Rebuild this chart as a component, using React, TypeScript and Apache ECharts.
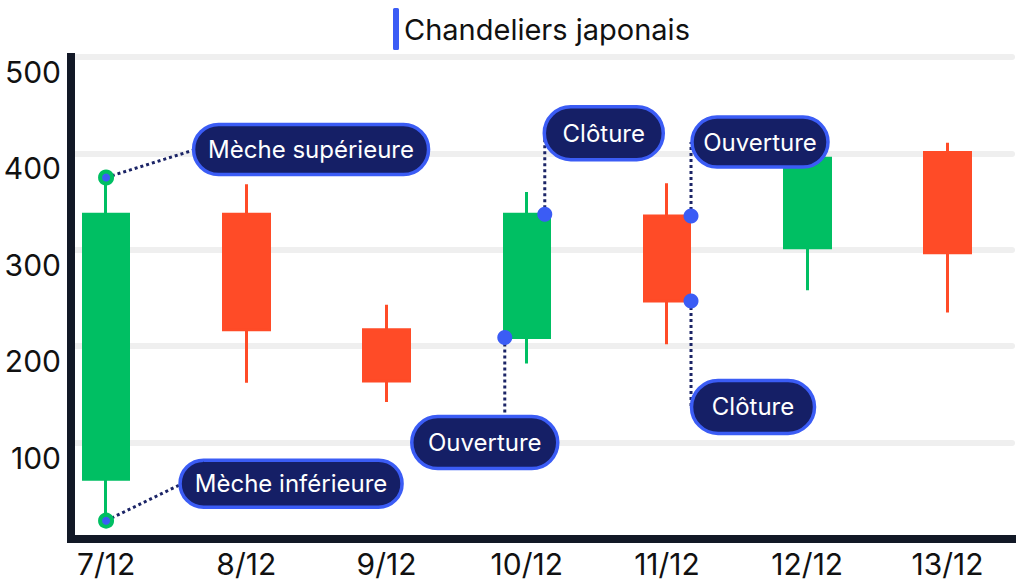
import React, { useEffect, useRef } from 'react';
import * as echarts from 'echarts';

// ---- data ----
const categories = ['7/12', '8/12', '9/12', '10/12', '11/12', '12/12', '13/12'];
const openValues = [62, 337, 217, 209, 335, 302, 401];
const closeValues = [337, 217, 164, 337, 247, 395, 297];
const lowValues = [19, 162, 142, 182, 202, 258, 235];
const highValues = [375, 368, 243, 360, 369, 395, 411];
const seriesName = 'Chandeliers japonais';

const yMin = 0;
const yMax = 500;
const yInterval = 100;

const annotationTexts = ['Mèche supérieure', 'Mèche inférieure', 'Clôture', 'Ouverture', 'Ouverture', 'Clôture'];
const annotationCategory = [0, 0, 3, 3, 4, 4];
const annotationField = ['high', 'low', 'close', 'open', 'open', 'close'];

// ---- layout / styles (pixels) ----
const annotationLayout = [
  { dotDx: 0, boxDx: 205, boxDy: -28, w: 235, h: 50, link: 'side', ring: true },
  { dotDx: 0, boxDx: 185, boxDy: -37, w: 222, h: 47, link: 'side', ring: true },
  { dotDx: 18, boxDx: 59, boxDy: -81, w: 119, h: 53, link: 'vertical', ring: false },
  { dotDx: -22, boxDx: -20, boxDy: 105, w: 146, h: 52, link: 'vertical', ring: false },
  { dotDx: 24, boxDx: 69, boxDy: -74, w: 136, h: 50, link: 'vertical', ring: false },
  { dotDx: 24, boxDx: 62, boxDy: 106, w: 123, h: 53, link: 'vertical', ring: false },
];

const GREEN = '#00bf63';
const RED = '#ff4b27';
const BLUE = '#3b5cf5';
const NAVY = '#151f66';
const AXIS = '#121826';
const FONT = 'Inter';

function fieldValue(field: string, i: number): number {
  if (field === 'open') return openValues[i];
  if (field === 'close') return closeValues[i];
  if (field === 'low') return lowValues[i];
  return highValues[i];
}

export default function App() {
  const ref = useRef<HTMLDivElement>(null);

  useEffect(() => {
    document.body.style.margin = '0';
    if (!ref.current) return;
    const chart = echarts.init(ref.current, undefined, { renderer: 'svg' });

    const candleData = categories.map((_, i) => [i, openValues[i], closeValues[i], lowValues[i], highValues[i]]);

    const ringDots: any[] = [];
    const blueDots: any[] = [];
    annotationTexts.forEach((_, k) => {
      const lay = annotationLayout[k];
      const item = {
        value: [annotationCategory[k], fieldValue(annotationField[k], annotationCategory[k])],
        symbolOffset: [lay.dotDx, 0],
      };
      (lay.ring ? ringDots : blueDots).push(item);
    });

    chart.setOption({
      animation: false,
      backgroundColor: '#ffffff',
      textStyle: { fontFamily: FONT },
      legend: {
        top: 8,
        left: 393,
        padding: 0,
        itemWidth: 6,
        itemHeight: 42,
        selectedMode: false,
        textStyle: { fontSize: 29, color: '#111111', fontFamily: FONT },
        data: [{ name: seriesName, icon: 'roundRect', itemStyle: { color: BLUE, borderWidth: 0 } }],
      },
      grid: { left: 71, right: 13, top: 57, bottom: 46, containLabel: false },
      xAxis: {
        type: 'value',
        min: -0.25,
        max: 6.46,
        axisLine: { show: true, onZero: false, lineStyle: { color: AXIS, width: 8, cap: 'square' } },
        axisTick: { show: false },
        splitLine: { show: false },
        axisLabel: {
          customValues: categories.map((_, i) => i),
          formatter: (v: number) => categories[Math.round(v)] ?? '',
          fontSize: 30,
          color: '#111111',
          margin: 10,
          fontFamily: FONT,
        },
      },
      yAxis: {
        type: 'value',
        min: yMin,
        max: yMax,
        interval: yInterval,
        axisLine: { show: true, onZero: false, lineStyle: { color: AXIS, width: 8, cap: 'square' } },
        axisTick: { show: false },
        splitLine: { show: true, lineStyle: { color: '#efefef', width: 6, cap: 'round' } },
        axisLabel: {
          showMinLabel: false,
          fontSize: 30,
          color: '#111111',
          margin: 10,
          verticalAlign: 'top',
          fontFamily: FONT,
        },
      },
      series: [
        {
          name: seriesName,
          type: 'candlestick',
          barWidth: 46,
          data: candleData,
          itemStyle: {
            color: GREEN,
            color0: RED,
            borderColor: GREEN,
            borderColor0: RED,
            borderWidth: 3,
          },
          z: 2,
        },
        {
          name: 'ring',
          type: 'scatter',
          data: ringDots,
          symbol: 'circle',
          symbolSize: 12,
          itemStyle: { color: BLUE, borderColor: GREEN, borderWidth: 4, opacity: 1 },
          z: 10,
          silent: true,
        },
        {
          name: 'dots',
          type: 'scatter',
          data: blueDots,
          symbol: 'circle',
          symbolSize: 15,
          itemStyle: { color: BLUE, opacity: 1 },
          z: 10,
          silent: true,
        },
      ],
    });

    const graphics: any[] = [];
    annotationTexts.forEach((text, k) => {
      const lay = annotationLayout[k];
      const cat = annotationCategory[k];
      const val = fieldValue(annotationField[k], cat);
      const p = chart.convertToPixel({ gridIndex: 0 }, [cat, val]) as number[];
      const ax = p[0] + lay.dotDx;
      const ay = p[1];
      const cx = ax + lay.boxDx;
      const cy = ay + lay.boxDy;
      const left = cx - lay.w / 2;
      const top = cy - lay.h / 2;
      const end = lay.link === 'side' ? [left + 2, cy] : [ax, cy];
      graphics.push({
        type: 'line',
        z: 5,
        silent: true,
        shape: { x1: ax, y1: ay, x2: end[0], y2: end[1] },
        style: { stroke: '#1b2466', lineWidth: 3, lineDash: [3, 3] },
      });
      graphics.push({
        type: 'rect',
        z: 20,
        silent: true,
        shape: { x: left, y: top, width: lay.w, height: lay.h, r: lay.h / 2 },
        style: { fill: NAVY, stroke: BLUE, lineWidth: 3.5 },
      });
      graphics.push({
        type: 'text',
        z: 21,
        silent: true,
        style: {
          text,
          x: cx,
          y: cy,
          fill: '#ffffff',
          font: `400 24px ${FONT}`,
          align: 'center',
          verticalAlign: 'middle',
        },
      });
    });
    chart.setOption({ graphic: graphics });

    return () => chart.dispose();
  }, []);

  return <div ref={ref} style={{ width: 1025, height: 585 }} />;
}
